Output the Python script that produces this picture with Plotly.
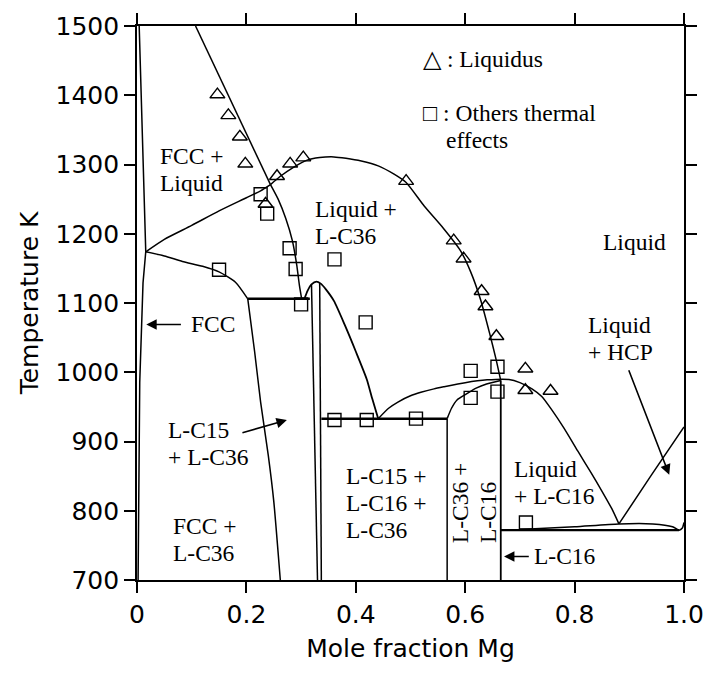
import plotly.graph_objects as go

# ---------------- data ----------------
# phase boundaries: mole fraction Mg (x) and temperature K (T)
fcc_liquidus_x = [0.107, 0.140, 0.175, 0.210, 0.244]
fcc_liquidus_T = [1500, 1445, 1386, 1328, 1271]

fcc_solidus_x = [0.004, 0.010, 0.016, 0.011, 0.005, 0.002]
fcc_solidus_T = [1500, 1340, 1174, 1129, 986, 700]

fcc_liq_lower_x = [0.016, 0.05, 0.10, 0.15, 0.20, 0.226, 0.244]
fcc_liq_lower_T = [1174, 1192, 1212, 1233, 1252, 1262, 1271]

fcc_solvus_x = [0.016, 0.05, 0.083, 0.12, 0.15, 0.18, 0.2025]
fcc_solvus_T = [1174, 1168, 1160, 1153, 1145, 1130, 1106]

c36_left_x = [0.2025, 0.215, 0.226, 0.24, 0.25, 0.262]
c36_left_T = [1106, 1030, 957, 880, 814, 700]

inv1106_x = [0.2025, 0.316]
inv1106_T = [1106, 1106]

c36_sol_x = [0.244, 0.258, 0.272, 0.284, 0.292, 0.297, 0.301]
c36_sol_T = [1271, 1250, 1222, 1190, 1155, 1125, 1106]

c36_liq_x = [0.244, 0.262, 0.286, 0.31, 0.334, 0.36, 0.382, 0.41, 0.441, 0.47,
             0.492, 0.525, 0.56, 0.591, 0.61, 0.628, 0.645, 0.656, 0.665]
c36_liq_T = [1271, 1283, 1296, 1306, 1310, 1311, 1309, 1305, 1298, 1286,
             1274, 1240, 1208, 1176, 1145, 1105, 1055, 1020, 988]

c15_arc_x = [0.306, 0.312, 0.319, 0.328, 0.336, 0.345, 0.36, 0.38, 0.40, 0.42, 0.43, 0.441]
c15_arc_T = [1106, 1118, 1127, 1131, 1128, 1120, 1103, 1068, 1030, 990, 962, 933]

c15_left_x = [0.319, 0.330]
c15_left_T = [1127, 700]
c15_right_x = [0.334, 0.337]
c15_right_T = [1129, 700]

inv933_x = [0.337, 0.567]
inv933_T = [933, 933]

v567_x = [0.567, 0.567]
v567_T = [933, 700]

c36_right_x = [0.567, 0.575, 0.585, 0.603, 0.62, 0.639, 0.665]
c36_right_T = [933, 948, 960, 969, 977, 983, 988]

v665_x = [0.665, 0.665]
v665_T = [988, 700]

c16_liq_x = [0.441, 0.46, 0.477, 0.50, 0.519, 0.543, 0.561, 0.60, 0.64, 0.68, 0.70,
             0.722, 0.74, 0.758, 0.78, 0.806, 0.83, 0.848, 0.868, 0.881]
c16_liq_T = [933, 948, 957, 966, 971, 976, 979, 985, 989, 989.5, 985,
             976, 965, 946, 920, 886, 855, 831, 803, 781]

hcp_liq_x = [0.881, 0.94, 1.0]
hcp_liq_T = [781, 851, 921]

inv772_x = [0.665, 0.991]
inv772_T = [772, 772]

hcp_solvus_x = [0.70, 0.80, 0.881, 0.943, 0.979, 0.991, 0.997, 1.0]
hcp_solvus_T = [773, 777, 781, 781, 777, 772, 775, 783]

# experimental points
liquidus_x = [0.147, 0.167, 0.188, 0.198, 0.235, 0.256, 0.280, 0.304, 0.492,
              0.579, 0.597, 0.630, 0.637, 0.657, 0.710, 0.710, 0.756]
liquidus_T = [1401, 1371, 1340, 1301, 1243, 1283, 1301, 1310, 1276,
              1190, 1164, 1117, 1095, 1052, 1005, 974, 973]

thermal_x = [0.150, 0.226, 0.238, 0.279, 0.290, 0.300, 0.361, 0.418, 0.361, 0.420,
             0.510, 0.610, 0.659, 0.610, 0.659, 0.711]
thermal_T = [1148, 1257, 1229, 1179, 1149, 1098, 1163, 1072, 931, 931,
             933, 1002, 1008, 963, 972, 783]

# axis ticks
x_tickvals = [0, 0.2, 0.4, 0.6, 0.8, 1.0]
x_ticktext = ["0", "0.2", "0.4", "0.6", "0.8", "1.0"]
y_tickvals = [700, 800, 900, 1000, 1100, 1200, 1300, 1400, 1500]

# ---------------- figure ----------------
fig = go.Figure()

curves = [
    (fcc_liquidus_x, fcc_liquidus_T, 1.5, "linear"),
    (fcc_solidus_x, fcc_solidus_T, 1.5, "linear"),
    (fcc_liq_lower_x, fcc_liq_lower_T, 1.5, "spline"),
    (fcc_solvus_x, fcc_solvus_T, 1.5, "spline"),
    (c36_left_x, c36_left_T, 1.5, "spline"),
    (inv1106_x, inv1106_T, 2.5, "linear"),
    (c36_sol_x, c36_sol_T, 1.5, "spline"),
    (c36_liq_x, c36_liq_T, 1.5, "spline"),
    (c15_arc_x, c15_arc_T, 1.8, "spline"),
    (c15_left_x, c15_left_T, 1.5, "linear"),
    (c15_right_x, c15_right_T, 1.5, "linear"),
    (inv933_x, inv933_T, 2.5, "linear"),
    (v567_x, v567_T, 1.5, "linear"),
    (c36_right_x, c36_right_T, 1.5, "spline"),
    (v665_x, v665_T, 1.8, "linear"),
    (c16_liq_x, c16_liq_T, 1.5, "spline"),
    (hcp_liq_x, hcp_liq_T, 1.5, "spline"),
    (inv772_x, inv772_T, 2.2, "linear"),
    (hcp_solvus_x, hcp_solvus_T, 1.5, "spline"),
]
for cx, cy, w, shp in curves:
    line = dict(color="black", width=w, shape=shp)
    if shp == "spline":
        line["smoothing"] = 0.6
    fig.add_trace(go.Scatter(x=cx, y=cy, mode="lines", line=line,
                             showlegend=False, hoverinfo="skip"))

fig.add_trace(go.Scatter(x=liquidus_x, y=liquidus_T, mode="markers",
                         marker=dict(symbol="triangle-up-open", size=13, color="black",
                                     line=dict(width=1.4, color="black")),
                         showlegend=False))
fig.add_trace(go.Scatter(x=thermal_x, y=thermal_T, mode="markers",
                         marker=dict(symbol="square-open", size=13, color="black",
                                     line=dict(width=1.4, color="black")),
                         showlegend=False))

SERIF = "Liberation Serif, Times New Roman, serif"
LBL = 23.5
LINE_GAP = 27


def label(lines, x, T, xanchor="left"):
    # T is the centre of the whole block
    n = len(lines)
    for i, s in enumerate(lines):
        shift = ((n - 1) / 2 - i) * LINE_GAP
        fig.add_annotation(x=x, y=T, text=s, showarrow=False, xanchor=xanchor,
                           yanchor="middle", yshift=shift,
                           font=dict(family=SERIF, size=LBL, color="black"))


def arrow(x0, T0, x1, T1):
    fig.add_annotation(x=x1, y=T1, ax=x0, ay=T0, xref="x", yref="y", axref="x", ayref="y",
                       text="", showarrow=True, arrowhead=2, arrowsize=1.3, arrowwidth=1.6,
                       arrowcolor="black")


label(["FCC +", "Liquid"], 0.038, 1293)
label(["Liquid +", "L-C36"], 0.322, 1216)
label(["Liquid"], 0.909, 1188, xanchor="center")
label(["\u25b3 : Liquidus"], 0.519, 1452)
label(["\u25a1 : Others thermal"], 0.519, 1374)
label(["effects"], 0.561, 1336)
label(["FCC"], 0.095, 1069)
arrow(0.083, 1069, 0.017, 1069)
label(["L-C15", "+ L-C36"], 0.053, 897)
arrow(0.190, 912, 0.274, 931)
label(["FCC +", "L-C36"], 0.062, 758)
label(["L-C15 +", "L-C16 +", "L-C36"], 0.379, 811)
label(["Liquid", "+ L-C16"], 0.686, 841)
label(["Liquid", "+ HCP"], 0.821, 1049)
arrow(0.898, 1005, 0.973, 852)
label(["L-C16"], 0.722, 734)
arrow(0.719, 734, 0.671, 734)

# rotated labels inside the narrow C36 + C16 field
fig.add_annotation(x=0.592, y=750, text="L-C36 +", showarrow=False, textangle=-90,
                   xanchor="center", yanchor="bottom",
                   font=dict(family=SERIF, size=LBL, color="black"))
fig.add_annotation(x=0.643, y=750, text="L-C16", showarrow=False, textangle=-90,
                   xanchor="center", yanchor="bottom",
                   font=dict(family=SERIF, size=LBL, color="black"))

SANS = "DejaVu Sans, Arial, sans-serif"
axis_common = dict(showline=True, linecolor="black", linewidth=1.6, mirror="ticks",
                   ticks="outside", ticklen=11, tickwidth=1.5, tickcolor="black",
                   showgrid=False, zeroline=False,
                   tickfont=dict(family=SANS, size=25, color="black"))

fig.update_xaxes(range=[0, 1.0], tickvals=x_tickvals, ticktext=x_ticktext,
                 title=dict(text="Mole fraction Mg", font=dict(family=SANS, size=25, color="black"),
                            standoff=12),
                 **axis_common)
fig.update_yaxes(range=[700, 1500], tickvals=y_tickvals,
                 title=dict(text="Temperature K", font=dict(family=SANS, size=25, color="black"),
                            standoff=10),
                 **axis_common)

fig.update_layout(width=716, height=674, margin=dict(l=137, r=21, t=20, b=94),
                  paper_bgcolor="white", plot_bgcolor="white", showlegend=False)

fig.write_html("out.html")
